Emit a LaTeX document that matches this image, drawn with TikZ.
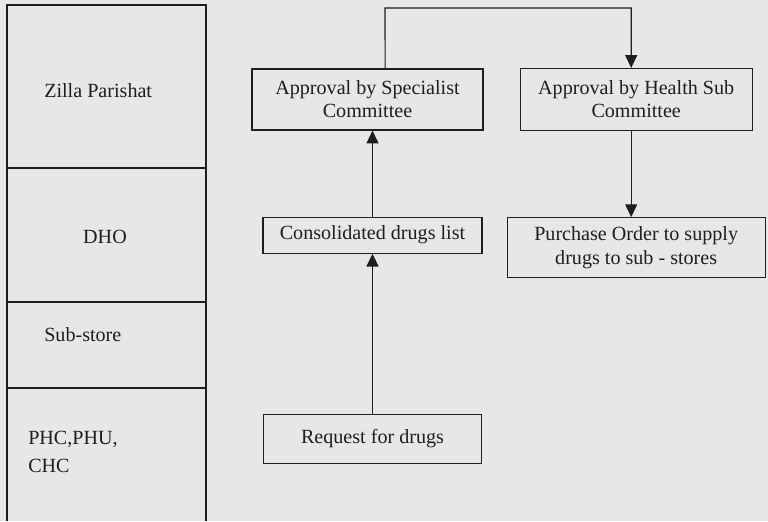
\documentclass[tikz,border=0pt]{standalone}
\usepackage{fontspec}
\setmainfont{Liberation Serif}
\usetikzlibrary{arrows.meta,positioning}
\definecolor{colTrait}{RGB}{30,30,30}
\definecolor{colTexte}{RGB}{30,30,30}
\definecolor{colFond}{RGB}{231,231,231}

\begin{document}
\begin{tikzpicture}[x=0.025cm, y=-0.025cm,
    b/.style={rectangle, draw=colTrait, line width=0.8pt, align=center,
      inner sep=0pt, text=colTexte, font=\fontsize{14.3}{16.5}\selectfont},
    niv/.style={inner sep=0pt, text=colTexte, align=left,
      font=\fontsize{14.3}{19.5}\selectfont},
    fl/.style={-{Triangle[length=3.2mm, width=3mm]}, line width=0.8pt, colTrait}]
    \fill[colFond] (0,0) rectangle (768,521);
    \useasboundingbox (0,0) rectangle (768,521);
    % colonne des niveaux
    \draw[colTrait, line width=0.8pt] (7,521) -- (7,5) -- (206,5) -- (206,521);
    \draw[colTrait, line width=0.8pt] (7,168) -- (206,168);
    \draw[colTrait, line width=0.8pt] (7,302) -- (206,302);
    \draw[colTrait, line width=0.8pt] (7,388) -- (206,388);
    \node[niv, anchor=west] (zp) at (44,91) {Zilla Parishat};
    \node[niv] (dho) at (105,237) {DHO};
    \node[niv, anchor=west] (sub) at (44,335) {Sub-store};
    \node[niv, anchor=west] (phc) at (28,452) {PHC,PHU,\\ CHC};
    % boites
    \node[b, minimum width=5.775cm, minimum height=1.525cm] (spec)
      at (367.5,99.5) {Approval by Specialist\\ Committee};
    \node[b, minimum width=5.8cm, minimum height=1.55cm, right=0.9cm of spec] (hsc)
      {Approval by Health Sub\\ Committee};
    \node[b, minimum width=5.475cm, minimum height=0.9cm, below=2.15cm of spec,
      xshift=0.125cm] (cons) {Consolidated drugs list};
    \node[b, minimum width=5.45cm, minimum height=1.225cm, below=4cm of cons] (req)
      {Request for drugs};
    \node[b, minimum width=6.45cm, minimum height=1.5cm, below=2.15cm of hsc] (po)
      {Purchase Order to supply\\ drugs to sub - stores};
    % fleches
    \coordinate (haut) at (385,8);
    \draw[fl] (req.north) -- (req.north |- cons.south);
    \draw[fl] (cons.north) -- (cons.north |- spec.south);
    \draw[fl] ([xshift=0.44cm]spec.north) -- (haut) -| ([xshift=-0.125cm]hsc.north);
    \draw[fl] ([xshift=-0.125cm]hsc.south) -- ([xshift=-0.125cm]hsc.south |- po.north);
  \end{tikzpicture}
\end{document}
